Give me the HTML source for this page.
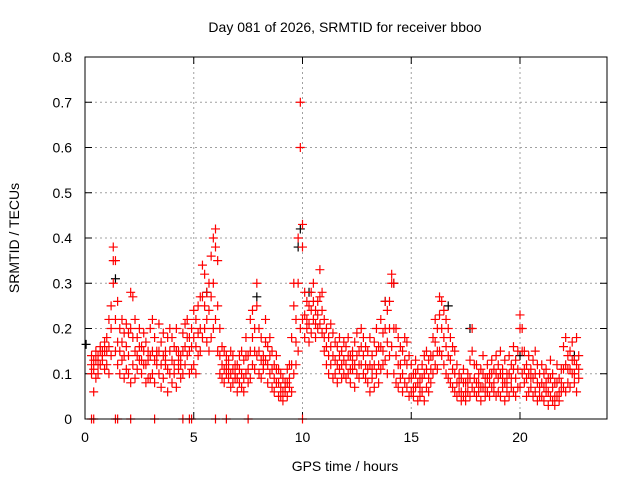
<!DOCTYPE html>
<html><head><meta charset="utf-8"><style>
body{margin:0;background:#fff;}
svg{display:block;font-family:"Liberation Sans",sans-serif;}
</style></head><body>
<svg id="chart" width="640" height="480">
<rect width="640" height="480" fill="#fff"/>
<text x="345" y="32" font-size="14" text-anchor="middle">Day 081 of 2026, SRMTID for receiver bboo</text>
<text x="345" y="471" font-size="14" text-anchor="middle">GPS time / hours</text>
<text transform="translate(19,238) rotate(-90)" font-size="14" text-anchor="middle">SRMTID / TECUs</text>
<g id="grid"></g>
<g id="axes"></g>
<g id="marks"></g>
<rect x="85" y="57" width="522" height="362" fill="none" stroke="#000" stroke-width="1"/>
</svg>
<script>
const xTicks=[0,5,10,15,20];
const yTicks=[0,0.1,0.2,0.3,0.4,0.5,0.6,0.7,0.8];
const yTickLabels=["0","0.1","0.2","0.3","0.4","0.5","0.6","0.7","0.8"];
const tStart=0.3, tStep=0.1;
const seriesA=[.14,.13,.15,.12,.16,.15,.17,
.18,.22,.25,.38,.35,.26,.20,.22,.19,.21,
.19,.28,.27,.22,.18,.20,.16,.19,.17,.15,
.20,.22,.18,.15,.21,.17,.19,.15,.18,.20,
.18,.16,.20,.15,.14,.19,.21,.22,.18,.20,
.24,.22,.25,.27,.34,.32,.28,.30,.36,.40,
.42,.35,.20,.16,.15,.14,.13,.15,.14,.12,
.12,.14,.15,.13,.18,.14,.22,.24,.20,.30,
.20,.18,.14,.22,.16,.18,.15,.12,.14,.11,
.10,.09,.08,.11,.12,.18,.30,.22,.40,.70,
.43,.28,.26,.25,.28,.30,.24,.26,.33,.28,
.22,.20,.18,.21,.19,.17,.16,.18,.15,.17,
.16,.18,.14,.15,.17,.19,.15,.20,.18,.16,
.15,.18,.14,.17,.20,.16,.22,.19,.26,.24,
.26,.32,.30,.20,.18,.16,.15,.18,.17,.14,
.12,.10,.13,.11,.09,.12,.14,.15,.13,.14,
.18,.22,.20,.27,.26,.24,.22,.20,.18,.16,
.15,.12,.10,.09,.11,.08,.10,.13,.20,.12,
.12,.10,.11,.14,.09,.12,.10,.13,.11,.14,
.12,.15,.11,.13,.10,.14,.12,.16,.13,.15,
.23,.20,.15,.12,.14,.11,.13,.15,.12,.10,
.12,.10,.11,.09,.13,.10,.08,.12,.09,.11,
.16,.18,.14,.15,.17,.13,.18,.14];
const seriesB=[.10,.06,.09,.10,.12,.13,.11,
.12,.10,.14,.30,.15,.12,.10,.13,.09,.11,
.10,.08,.12,.09,.11,.13,.10,.12,.08,.09,
.09,.10,.08,.12,.10,.07,.09,.12,.06,.10,
.08,.10,.07,.11,.09,.10,.12,.14,.10,.11,
.12,.10,.14,.15,.18,.20,.17,.15,.18,.20,
.22,.15,.10,.09,.08,.10,.09,.07,.08,.09,
.06,.08,.07,.06,.10,.08,.09,.12,.11,.14,
.10,.09,.11,.13,.08,.10,.07,.06,.08,.05,
.05,.04,.06,.05,.07,.06,.10,.12,.15,.20,
.22,.18,.20,.17,.19,.22,.18,.20,.21,.19,
.15,.12,.10,.12,.09,.10,.08,.11,.09,.10,
.09,.10,.08,.11,.07,.10,.09,.12,.10,.09,
.08,.06,.09,.07,.10,.08,.11,.12,.13,.10,
.14,.16,.10,.08,.07,.09,.06,.08,.07,.05,
.06,.05,.07,.04,.05,.06,.04,.07,.06,.08,
.10,.12,.11,.15,.14,.12,.10,.09,.08,.07,
.06,.05,.06,.04,.05,.04,.06,.05,.07,.06,
.05,.06,.04,.07,.05,.06,.05,.07,.06,.05,
.06,.05,.07,.04,.06,.05,.07,.06,.05,.07,
.07,.10,.08,.05,.06,.07,.05,.06,.04,.05,
.05,.04,.06,.03,.05,.04,.03,.05,.04,.06,
.07,.06,.08,.07,.10,.08,.06,.09];
const seriesC=[.12,.11,.13,.14,.15,.14,.15,
.15,.16,.20,.35,.22,.17,.15,.17,.14,.16,
.14,.20,.18,.15,.14,.16,.13,.15,.12,.13,
.14,.15,.13,.14,.15,.12,.14,.13,.11,.15,
.13,.12,.15,.13,.12,.15,.16,.18,.15,.16,
.18,.16,.19,.20,.27,.25,.22,.24,.27,.30,
.38,.25,.14,.12,.11,.12,.11,.10,.11,.10,
.09,.11,.10,.09,.14,.11,.15,.18,.15,.25,
.15,.13,.12,.17,.12,.14,.11,.09,.11,.08,
.07,.06,.07,.08,.09,.12,.25,.17,.30,.60,
.38,.23,.22,.21,.24,.26,.21,.23,.27,.24,
.18,.16,.14,.16,.14,.13,.12,.14,.12,.13,
.12,.14,.11,.13,.12,.14,.12,.16,.14,.12,
.11,.12,.11,.12,.15,.12,.16,.15,.20,.17,
.20,.30,.20,.14,.12,.12,.10,.13,.12,.09,
.09,.07,.10,.08,.07,.09,.10,.11,.09,.11,
.14,.17,.15,.23,.20,.18,.16,.14,.13,.11,
.10,.08,.08,.06,.08,.06,.08,.09,.15,.09,
.08,.08,.07,.10,.07,.09,.08,.10,.08,.10,
.09,.10,.09,.08,.08,.10,.09,.11,.09,.11,
.20,.15,.11,.09,.10,.09,.09,.10,.08,.07,
.08,.07,.08,.06,.09,.07,.05,.08,.06,.08,
.11,.12,.11,.11,.13,.10,.12,.11];
const blackTimes=[0.05,1.4,5.6,7.9,9.8,9.9,10.3,13.8,14.2,16.7,17.7,20.0,22.5];
const blackValues=[.165,.31,.28,.27,.38,.42,.28,.26,.30,.25,.20,.14,.14];
const zeroTimes=[0.3,0.4,1.4,1.5,2.1,3.2,4.5,4.8,4.9,6.0,6.5,7.5,10.0];

const NS="http://www.w3.org/2000/svg";
const X0=85,X1=607,Y0=419,Y1=57,XMAX=24,YMAX=0.8;
const xs=t=>X0+(X1-X0)*t/XMAX;
const ys=v=>Y0-(Y0-Y1)*v/YMAX;
function mk(tag,attrs,parent){const e=document.createElementNS(NS,tag);for(const k in attrs)e.setAttribute(k,attrs[k]);parent.appendChild(e);return e;}
const grid=document.getElementById('grid'),axes=document.getElementById('axes'),marks=document.getElementById('marks');
xTicks.forEach(t=>{
  const x=xs(t);
  if(t>0){const g=mk('line',{x1:x,x2:x,y1:Y0,y2:Y1,stroke:'#a0a0a0','stroke-dasharray':'2,3'},grid);
  
  }
  mk('line',{x1:x,x2:x,y1:Y0,y2:Y0-7,stroke:'#000'},axes);
  mk('line',{x1:x,x2:x,y1:Y1,y2:Y1+7,stroke:'#000'},axes);
  const l=mk('text',{x:x,y:Y0+23,'font-size':14,'text-anchor':'middle'},axes);l.textContent=t;
  
  
});
yTicks.forEach((v,i)=>{
  const y=ys(v);
  if(v>0&&v<YMAX){const g=mk('line',{x1:X0,x2:X1,y1:y,y2:y,stroke:'#a0a0a0','stroke-dasharray':'2,3'},grid);
  
  }
  mk('line',{x1:X0,x2:X0+7,y1:y,y2:y,stroke:'#000'},axes);
  mk('line',{x1:X1,x2:X1-7,y1:y,y2:y,stroke:'#000'},axes);
  const l=mk('text',{x:X0-13,y:y+5,'font-size':14,'text-anchor':'end'},axes);l.textContent=yTickLabels[i];
  
  
});
function plus(t,v,color){
  const x=xs(t),y=ys(v);
  const p=mk('path',{d:`M${x-4.5} ${y}H${x+4.5}M${x} ${y-4.5}V${y+4.5}`,stroke:color,'stroke-width':1.2,fill:'none'},marks);
  
  
}
blackTimes.forEach((t,i)=>plus(t,blackValues[i],'#000'));
[seriesA,seriesB,seriesC].forEach(s=>s.forEach((v,i)=>plus(tStart+i*tStep,v,'#f00')));
zeroTimes.forEach(t=>plus(t,0,'#f00'));
</script>
</body></html>
